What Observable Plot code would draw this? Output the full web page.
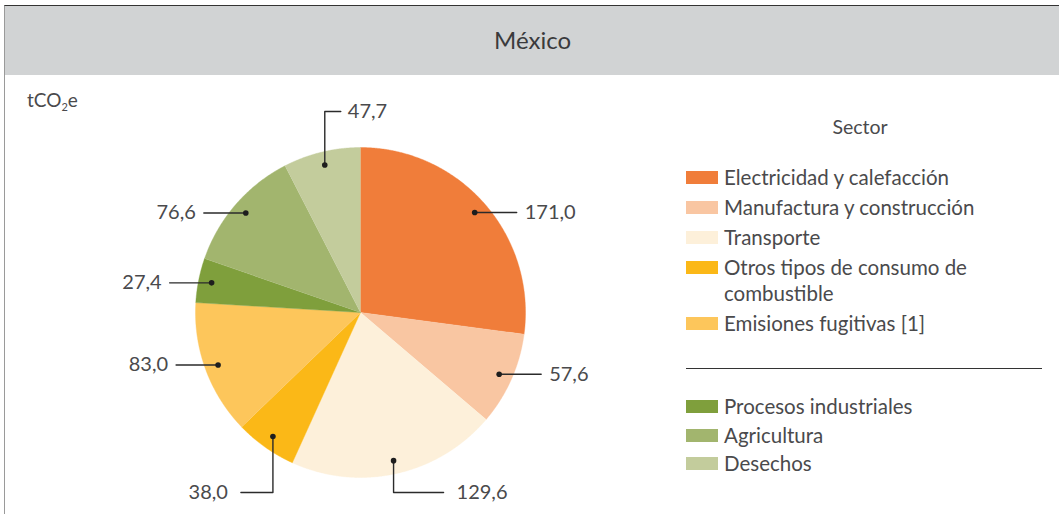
<!DOCTYPE html>
<html>
<head>
<meta charset="utf-8">
<script src="https://cdn.jsdelivr.net/npm/d3@7"></script>
<script src="https://cdn.jsdelivr.net/npm/@observablehq/plot@0.6"></script>
<style>
  html, body { margin: 0; padding: 0; background: #fff; }
  body { width: 1059px; height: 514px; overflow: hidden; position: relative; font-family: Lato, "Noto Sans", sans-serif; color: #4a4a4c; }
  #frame { position: absolute; left: 4px; top: 5px; width: 1055px; height: 509px; border-top: 1px solid #333; border-left: 1px solid #9a9a9a; }
  #header { height: 69px; background: #d1d3d4; display: flex; align-items: center; justify-content: center; font-size: 24px; color: #3a3a3c; padding-bottom: 2px; box-sizing: border-box; }
  #chart { position: absolute; left: 0; top: 70px; }
  #unit { position: absolute; left: 22px; top: 82px; font-size: 19px; }
  #unit sub { font-size: 11px; vertical-align: -4px; }
  #sectorTitle { position: absolute; left: 780px; width: 150px; text-align: center; top: 109px; font-size: 19.5px; }
  #legend { position: absolute; left: 681px; top: 158px; width: 360px; font-size: 20.5px; }
  .row { position: relative; padding-left: 38px; line-height: 26px; margin-bottom: 4px; width: 262px; }
  .sw { position: absolute; left: 0; top: 7px; width: 32px; height: 13px; }
  .sep { width: 356px; border-top: 1px solid #333; margin: 32px 0 24px 0; }
  .g2 .row { margin-bottom: 2.5px; }
</style>
</head>
<body>
<div id="frame">
  <div id="header">México</div>
  <div id="chart"></div>
  <div id="unit">tCO<sub>2</sub>e</div>
  <div id="sectorTitle">Sector</div>
  <div id="legend"></div>
</div>
<script>
// ---- Data ----
const sectores = [
  "Electricidad y calefacción",
  "Manufactura y construcción",
  "Transporte",
  "Otros tipos de consumo de combustible",
  "Emisiones fugitivas [1]",
  "Procesos industriales",
  "Agricultura",
  "Desechos"
];
const valores = [171.0, 57.6, 129.6, 38.0, 83.0, 27.4, 76.6, 47.7];
const grupos = ["Energía", "Energía", "Energía", "Energía", "Energía", "Otros", "Otros", "Otros"];
const colores = ["#f07d3a", "#f9c6a2", "#fdf0da", "#fbb817", "#fdc65b", "#7f9f3c", "#a2b56e", "#c3cc9c"];

// ---- Layout ----
const W = 1054, H = 444;
const cx = 355, cy = 236;   // pie centre inside svg (pixels)
const R = 165;
const fmt = v => v.toFixed(1).replace(".", ",");

const rows = sectores.map((s, i) => ({sector: s, valor: valores[i], grupo: grupos[i]}));
const arcs = d3.pie().sort(null).value(d => d.valor)(rows);

// slice polygons (data units = pixels, origin at pie centre, y upward)
const polys = [];
arcs.forEach(a => {
  polys.push({sector: a.data.sector, x: 0, y: 0});
  const n = Math.max(4, Math.ceil((a.endAngle - a.startAngle) / 0.005));
  for (let k = 0; k <= n; k++) {
    const t = a.startAngle + (a.endAngle - a.startAngle) * k / n;
    polys.push({sector: a.data.sector, x: R * Math.sin(t), y: R * Math.cos(t)});
  }
});

// leader lines
const deg = r => ((r * 180 / Math.PI) % 360 + 360) % 360;
const leaders = [], labels = [];
arcs.forEach(a => {
  const m = (a.startAngle + a.endAngle) / 2;
  const md = deg(m);
  const rd = 0.92 * R;
  const dx = rd * Math.sin(m), dy = rd * Math.cos(m);
  let pts, lab;
  if (md > 330 || md < 30) {            // top
    const ey = R + 36;
    pts = [[dx, dy], [dx, ey], [dx + 16, ey]];
    lab = {x: dx + 16, y: ey, anchor: "start", off: 7};
  } else if (md > 150 && md < 230) {    // bottom
    const ey = -(R + 15);
    const side = dx >= 0 ? 1 : -1;
    const ex = dx + side * (side > 0 ? 50 : 32);
    pts = [[dx, dy], [dx, ey], [ex, ey]];
    lab = {x: ex, y: ey, anchor: side > 0 ? "start" : "end", off: side * 13};
  } else {                               // sides
    const side = dx >= 0 ? 1 : -1;
    const ex = dx + side * 42;
    pts = [[dx, dy], [ex, dy]];
    lab = {x: ex, y: dy, anchor: side > 0 ? "start" : "end", off: side * 8};
  }
  pts.forEach(p => leaders.push({sector: a.data.sector, x: p[0], y: p[1]}));
  labels.push({sector: a.data.sector, valor: a.data.valor, px: dx, py: dy, ...lab});
});

const chart = Plot.plot({
  width: W,
  height: H,
  margin: 0,
  style: {fontFamily: "Lato, 'Noto Sans', sans-serif", background: "transparent"},
  x: {domain: [-cx, W - cx], range: [0, W], axis: null},
  y: {domain: [cy - H, cy], range: [H, 0], axis: null},
  color: {domain: sectores, range: colores},
  marks: [
    ...arcs.map(a => Plot.line(polys.filter(p => p.sector === a.data.sector), {
      x: "x", y: "y", fill: "sector", stroke: "sector", strokeWidth: 0.4, curve: "linear"
    })),
    Plot.line(leaders, {x: "x", y: "y", z: "sector", stroke: "#2b2b2b", strokeWidth: 1.4}),
    Plot.dot(labels, {x: "px", y: "py", r: 2.8, fill: "#1e1e1e", stroke: null}),
    ...labels.map(l => Plot.text([l], {
      x: "x", y: "y", text: d => fmt(d.valor), textAnchor: l.anchor, dx: l.off,
      fontSize: 20, fill: "#4a4a4c", lineAnchor: "middle"
    }))
  ]
});
document.getElementById("chart").appendChild(chart);

// legend
const legend = d3.select("#legend");
const g1 = legend.append("div").attr("class", "g1");
const sep = legend.append("div").attr("class", "sep");
const g2 = legend.append("div").attr("class", "g2");
rows.forEach((r, i) => {
  const g = r.grupo === "Energía" ? g1 : g2;
  const row = g.append("div").attr("class", "row");
  row.append("div").attr("class", "sw").style("background", colores[i]);
  row.append("span").text(r.sector);
});
</script>
</body>
</html>
